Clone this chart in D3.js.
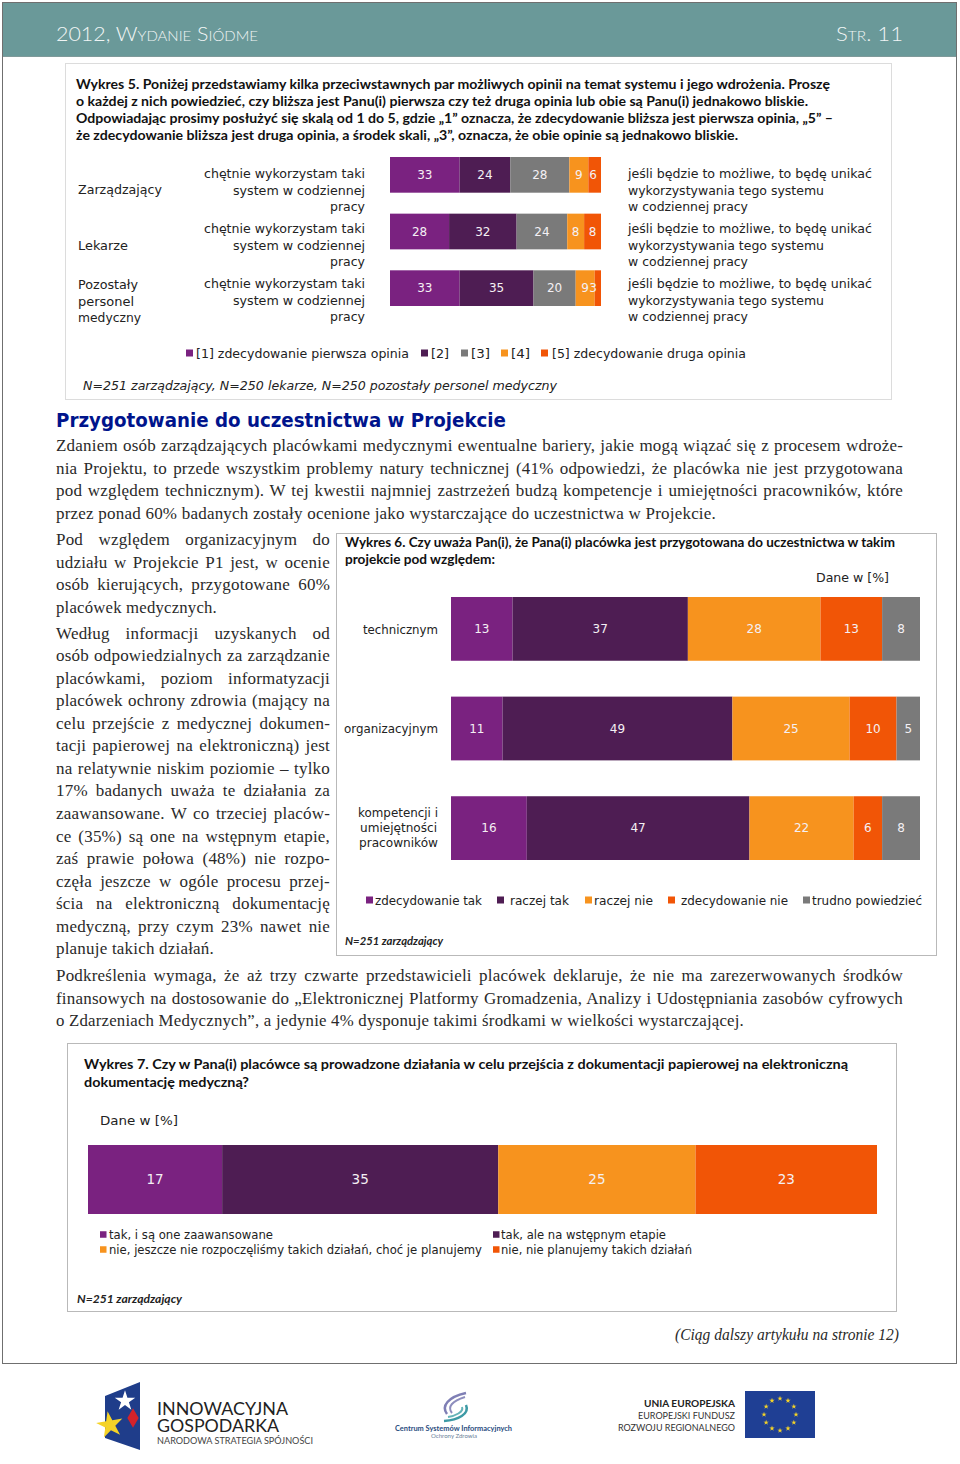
<!DOCTYPE html>
<html>
<head>
<meta charset="utf-8">
<style>
  html, body { margin: 0; padding: 0; background: #fff; }
  svg { display: block; }
</style>
<script src="https://cdn.jsdelivr.net/npm/d3@7"></script>
</head>
<body>
<div id="page"></div>
<script>
// chart data
const fig5Groups = ['Zarządzający', 'Lekarze', 'Pozostały personel medyczny'];
const fig5Opinia1 = [33, 28, 33];
const fig5Opinia2 = [24, 32, 35];
const fig5Opinia3 = [28, 24, 20];
const fig5Opinia4 = [9, 8, 9];
const fig5Opinia5 = [6, 8, 3];

const fig6Categories = ['technicznym', 'organizacyjnym', 'kompetencji'];
const fig6Tak = [13, 11, 16];
const fig6RaczejTak = [37, 49, 47];
const fig6RaczejNie = [28, 25, 22];
const fig6Nie = [13, 10, 6];
const fig6Trudno = [8, 5, 8];

const fig7Categories = ['wszyscy'];
const fig7Zaawansowane = [17];
const fig7Wstepne = [35];
const fig7Planowane = [25];
const fig7Brak = [23];

// text
const fig5Title = [
  'Wykres 5. Poniżej przedstawiamy kilka przeciwstawnych par możliwych opinii na temat systemu i jego wdrożenia. Proszę',
  'o każdej z nich powiedzieć, czy bliższa jest Panu(i) pierwsza czy też druga opinia lub obie są Panu(i) jednakowo bliskie.',
  'Odpowiadając prosimy posłużyć się skalą od 1 do 5, gdzie „1” oznacza, że zdecydowanie bliższa jest pierwsza opinia, „5” –',
  'że zdecydowanie bliższa jest druga opinia, a środek skali, „3”, oznacza, że obie opinie są jednakowo bliskie.'
];
const fig5Left = ['chętnie wykorzystam taki', 'system w codziennej', 'pracy'];
const fig5Right = ['jeśli będzie to możliwe, to będę unikać', 'wykorzystywania tego systemu', 'w codziennej pracy'];
const fig5Legend = ['[1] zdecydowanie pierwsza opinia', '[2]', '[3]', '[4]', '[5] zdecydowanie druga opinia'];
const fig5Note = 'N=251 zarządzający, N=250 lekarze, N=250 pozostały personel medyczny';

const fig6Title = [
  'Wykres 6. Czy uważa Pan(i), że Pana(i) placówka jest przygotowana do uczestnictwa w takim',
  'projekcie pod względem:'
];
const fig6Legend = ['zdecydowanie tak', 'raczej tak', 'raczej nie', 'zdecydowanie nie', 'trudno powiedzieć'];

const fig7Title = [
  'Wykres 7. Czy w Pana(i) placówce są prowadzone działania w celu przejścia z dokumentacji papierowej na elektroniczną',
  'dokumentację medyczną?'
];
const fig7Legend = [
  'tak, i są one zaawansowane',
  'tak, ale na wstępnym etapie',
  'nie, jeszcze nie rozpoczęliśmy takich działań, choć je planujemy',
  'nie, nie planujemy takich działań'
];

const heading = 'Przygotowanie do uczestnictwa w Projekcie';
const introLines = [
  'Zdaniem osób zarządzających placówkami medycznymi ewentualne bariery, jakie mogą wiązać się z procesem wdroże-',
  'nia Projektu, to przede wszystkim problemy natury technicznej (41% odpowiedzi, że placówka nie jest przygotowana',
  'pod względem technicznym). W tej kwestii najmniej zastrzeżeń budzą kompetencje i umiejętności pracowników, które',
  'przez ponad 60% badanych zostały ocenione jako wystarczające do uczestnictwa w Projekcie.'
];
const colLines1 = [
  'Pod względem organizacyjnym do',
  'udziału w Projekcie P1 jest, w ocenie',
  'osób kierujących, przygotowane 60%',
  'placówek medycznych.'
];
const colLines2 = [
  'Według informacji uzyskanych od',
  'osób odpowiedzialnych za zarządzanie',
  'placówkami, poziom informatyzacji',
  'placówek ochrony zdrowia (mający na',
  'celu przejście z medycznej dokumen-',
  'tacji papierowej na elektroniczną) jest',
  'na relatywnie niskim poziomie – tylko',
  '17% badanych uważa te działania za',
  'zaawansowane. W co trzeciej placów-',
  'ce (35%) są one na wstępnym etapie,',
  'zaś prawie połowa (48%) nie rozpo-',
  'częła jeszcze w ogóle procesu przej-',
  'ścia na elektroniczną dokumentację',
  'medyczną, przy czym 23% nawet nie',
  'planuje takich działań.'
];
const outroLines = [
  'Podkreślenia wymaga, że aż trzy czwarte przedstawicieli placówek deklaruje, że nie ma zarezerwowanych środków',
  'finansowych na dostosowanie do „Elektronicznej Platformy Gromadzenia, Analizy i Udostępniania zasobów cyfrowych',
  'o Zdarzeniach Medycznych”, a jedynie 4% dysponuje takimi środkami w wielkości wystarczającej.'
];

const purple = '#7a2280', darkPurple = '#4e1d53', grey = '#7a7a7a', orange = '#f7931e', red = '#f15506';
const chartFont = '"DejaVu Sans"', titleFont = 'Lato', bodyFont = '"Liberation Serif"';

const svg = d3.select('#page').append('svg')
  .attr('width', 960)
  .attr('height', 1464);

// text squeezed in between two x positions
function fit(str, x0, x1, y, opts = {}) {
  return svg.append('text')
    .attr('x', x0)
    .attr('y', y)
    .attr('textLength', x1 - x0)
    .attr('lengthAdjust', 'spacingAndGlyphs')
    .attr('font-family', opts.font || chartFont)
    .attr('font-size', opts.size || 12)
    .attr('font-weight', opts.weight || 'normal')
    .attr('font-style', opts.style || 'normal')
    .attr('font-variant', opts.variant || 'normal')
    .attr('fill', opts.fill || '#222')
    .text(str);
}

// body text, word gaps stretched to reach x1
function bodyLine(str, x0, x1, y) {
  const t = svg.append('text')
    .attr('x', x0)
    .attr('y', y)
    .attr('font-family', bodyFont)
    .attr('font-size', 17)
    .attr('letter-spacing', 0.2)
    .attr('fill', '#2a2a2a')
    .text(str);
  const w = t.node().getComputedTextLength();
  const gaps = str.split(' ').length - 1;
  if (w < x1 - x0 && gaps > 0) {
    t.attr('word-spacing', (x1 - x0 - w) / gaps);
  } else {
    t.attr('textLength', x1 - x0).attr('lengthAdjust', 'spacingAndGlyphs');
  }
}

function frame(x0, y0, x1, y1, color) {
  svg.append('rect')
    .attr('x', x0 + 0.5).attr('y', y0 + 0.5)
    .attr('width', x1 - x0).attr('height', y1 - y0)
    .attr('fill', '#fff')
    .attr('stroke', color);
}

// stacked bars, every row expanded to 100%
function stackedBars(cats, keys, seriesArrays, colors, xRange, yRange, inner, labelSize) {
  const rows = cats.map((c, i) => {
    const row = { cat: c };
    keys.forEach((k, j) => { row[k] = seriesArrays[j][i]; });
    return row;
  });
  const x = d3.scaleLinear().domain([0, 1]).range(xRange);
  const y = d3.scaleBand().domain(cats).range(yRange).paddingInner(inner);
  const color = d3.scaleOrdinal().domain(keys).range(colors);
  const stacked = d3.stack().keys(keys).offset(d3.stackOffsetExpand)(rows);

  const layer = svg.append('g').selectAll('g')
    .data(stacked)
    .join('g')
    .attr('fill', d => color(d.key));

  layer.selectAll('rect')
    .data(d => d)
    .join('rect')
    .attr('x', d => x(d[0]))
    .attr('y', d => y(d.data.cat))
    .attr('width', d => x(d[1]) - x(d[0]))
    .attr('height', y.bandwidth());

  const labels = svg.append('g');
  stacked.forEach(s => {
    labels.selectAll(null)
      .data(s)
      .join('text')
      // thin end segments: keep the number off the bar's edge
      .attr('x', d => Math.min(x((d[0] + d[1]) / 2), xRange[1] - 8))
      .attr('y', d => y(d.data.cat) + y.bandwidth() / 2)
      .attr('dy', '0.36em')
      .attr('text-anchor', 'middle')
      .attr('font-family', chartFont)
      .attr('font-size', labelSize)
      .attr('fill', '#f4f0f4')
      .text(d => d.data[s.key]);
  });
}

function swatch(x0, yc, size, color) {
  svg.append('rect')
    .attr('x', x0).attr('y', yc - size / 2)
    .attr('width', size).attr('height', size)
    .attr('fill', color);
}

// page frame and header band
svg.append('rect').attr('x', 2.5).attr('y', 2.5).attr('width', 954).attr('height', 1361)
  .attr('fill', '#fff').attr('stroke', '#6f6f6f');
svg.append('rect').attr('x', 3).attr('y', 3).attr('width', 953).attr('height', 53).attr('fill', '#6a9999');
svg.append('line').attr('x1', 3).attr('x2', 956).attr('y1', 56.5).attr('y2', 56.5).attr('stroke', '#7f9a9a');
fit('2012, Wydanie Siódme', 56, 258, 41, { font: titleFont, size: 20, weight: 300, variant: 'small-caps', fill: '#f0f5f5' });
fit('Str. 11', 836, 903, 41, { font: titleFont, size: 20, weight: 300, variant: 'small-caps', fill: '#f0f5f5' });

// wykres 5
frame(65, 63, 891, 399, '#dcdcdc');
const fig5TitleEnds = [830, 808, 833, 738];
fig5Title.forEach((s, i) => {
  fit(s, 76, fig5TitleEnds[i], 89 + i * 17, { font: titleFont, size: 13.5, weight: 'bold', fill: '#111' });
});
stackedBars(fig5Groups, ['o1', 'o2', 'o3', 'o4', 'o5'],
  [fig5Opinia1, fig5Opinia2, fig5Opinia3, fig5Opinia4, fig5Opinia5],
  [purple, darkPurple, grey, orange, red], [390, 601], [157, 306], 0.37, 12);

fit('Zarządzający', 78, 162, 194);
fit('Lekarze', 78, 128, 250);
fit('Pozostały', 78, 138, 289);
fit('personel', 78, 134, 306);
fit('medyczny', 78, 141, 322);

const fig5LeftStarts = [204, 233, 330];
const fig5RightEnds = [872, 824, 748];
d3.range(3).forEach(row => {
  d3.range(3).forEach(i => {
    const yy = 178 + row * 55 + i * 16.5;
    fit(fig5Left[i], fig5LeftStarts[i], 365, yy);
    fit(fig5Right[i], 628, fig5RightEnds[i], yy);
  });
});

const fig5LegendColors = [purple, darkPurple, grey, orange, red];
const fig5LegendSwatch = [186, 421, 461, 501, 541];
const fig5LegendText = [[196, 409], [431, 449], [471, 490], [511, 530], [552, 746]];
fig5Legend.forEach((s, i) => {
  swatch(fig5LegendSwatch[i], 353, 7, fig5LegendColors[i]);
  fit(s, fig5LegendText[i][0], fig5LegendText[i][1], 358);
});
fit(fig5Note, 83, 557, 390, { style: 'italic' });

// tekst
fit(heading, 56, 506, 427, { size: 19, weight: 'bold', fill: '#00148c' });
introLines.forEach((s, i) => {
  bodyLine(s, 56, i === 3 ? 716 : 903, 451 + i * 22.6);
});
colLines1.forEach((s, i) => {
  bodyLine(s, 56, i === 3 ? 217 : 330, 545 + i * 22.6);
});
colLines2.forEach((s, i) => {
  bodyLine(s, 56, i === 14 ? 214 : 330, 638.5 + i * 22.57);
});
outroLines.forEach((s, i) => {
  bodyLine(s, 56, i === 2 ? 744 : 903, 981 + i * 22.5);
});
fit('(Ciąg dalszy artykułu na stronie 12)', 675, 899, 1340, { font: bodyFont, size: 17, style: 'italic', fill: '#2a2a2a' });

// wykres 6
frame(336, 533, 936, 955, '#b9b9b9');
fit(fig6Title[0], 345, 895, 547, { font: titleFont, size: 13.5, weight: 'bold', fill: '#111' });
fit(fig6Title[1], 345, 495, 564, { font: titleFont, size: 13.5, weight: 'bold', fill: '#111' });
fit('Dane w [%]', 816, 889, 582);
stackedBars(fig6Categories, ['tak', 'rtak', 'rnie', 'nie', 'tp'],
  [fig6Tak, fig6RaczejTak, fig6RaczejNie, fig6Nie, fig6Trudno],
  [purple, darkPurple, orange, red, grey], [451, 920], [597, 860], 0.36, 12);
fit('technicznym', 363, 438, 634);
fit('organizacyjnym', 344, 438, 733);
fit('kompetencji i', 358, 438, 817);
fit('umiejętności', 360, 437, 832);
fit('pracowników', 359, 438, 847);

const fig6LegendColors = [purple, darkPurple, orange, red, grey];
const fig6LegendSwatch = [366, 497, 585, 668, 803];
const fig6LegendText = [[375, 482], [510, 569], [594, 653], [681, 788], [812, 922]];
fig6Legend.forEach((s, i) => {
  swatch(fig6LegendSwatch[i], 900, 7, fig6LegendColors[i]);
  fit(s, fig6LegendText[i][0], fig6LegendText[i][1], 905);
});
fit('N=251 zarządzający', 345, 443, 945, { font: titleFont, size: 12, style: 'italic', weight: 'bold', fill: '#222' });

// wykres 7
frame(67, 1043, 896, 1311, '#b9b9b9');
fit(fig7Title[0], 84, 848, 1069, { font: titleFont, size: 14, weight: 'bold', fill: '#111' });
fit(fig7Title[1], 84, 249, 1087, { font: titleFont, size: 14, weight: 'bold', fill: '#111' });
fit('Dane w [%]', 100, 178, 1125, { size: 13 });
stackedBars(fig7Categories, ['a', 'b', 'c', 'd'],
  [fig7Zaawansowane, fig7Wstepne, fig7Planowane, fig7Brak],
  [purple, darkPurple, orange, red], [88, 877], [1145, 1214], 0, 13.5);

const fig7LegendColors = [purple, darkPurple, orange, red];
const fig7LegendText = [[109, 273, 1239], [501, 666, 1239], [109, 482, 1254], [501, 692, 1254]];
fig7Legend.forEach((s, i) => {
  const t = fig7LegendText[i];
  swatch(i % 2 ? 493 : 100, t[2] - 4.5, 6.5, fig7LegendColors[i]);
  fit(s, t[0], t[1], t[2]);
});
fit('N=251 zarządzający', 77, 182, 1303, { font: titleFont, size: 12, style: 'italic', weight: 'bold', fill: '#222' });

// logotypy w stopce
const flag = svg.append('g');
flag.append('path').attr('d', 'M105,1396 L140,1382 L140,1450 L105,1438 Z').attr('fill', '#1f3d8a');
flag.append('path').attr('d', d3.symbol(d3.symbolStar, 130)()).attr('transform', 'translate(125,1401)').attr('fill', '#fff');
flag.append('path').attr('d', d3.symbol(d3.symbolDiamond, 110)()).attr('transform', 'translate(133,1418)').attr('fill', '#d4222a');
flag.append('path').attr('d', d3.symbol(d3.symbolStar, 220)()).attr('transform', 'translate(110,1425) rotate(-10)').attr('fill', '#f5d327');
fit('INNOWACYJNA', 157, 288, 1415, { font: 'Lato', size: 16.5, fill: '#222' });
fit('GOSPODARKA', 157, 279, 1432, { font: 'Lato', size: 16.5, fill: '#222' });
fit('NARODOWA STRATEGIA SPÓJNOŚCI', 157, 313, 1444, { font: 'Lato', size: 9, fill: '#444' });

const swirl = svg.append('g').attr('fill', 'none');
swirl.append('path').attr('d', 'M466,1393 C448,1397 441,1406 447,1414').attr('stroke', '#7f7fb5').attr('stroke-width', 2.5);
swirl.append('path').attr('d', 'M465,1397 C452,1401 447,1407 452,1413').attr('stroke', '#8d8dbd').attr('stroke-width', 2);
swirl.append('path').attr('d', 'M466,1405 C470,1414 458,1420 444,1421').attr('stroke', '#3d9aa5').attr('stroke-width', 2.5);
swirl.append('path').attr('d', 'M462,1407 C464,1412 455,1416 448,1417').attr('stroke', '#66b3b8').attr('stroke-width', 2);
fit('Centrum Systemów Informacyjnych', 395, 512, 1431, { font: 'Lato', size: 7, weight: 'bold', fill: '#2a4d80' });
fit('Ochrony Zdrowia', 431, 477, 1437.5, { font: 'Lato', size: 5, fill: '#6b7f99' });

fit('UNIA EUROPEJSKA', 644, 735, 1407, { font: 'Lato', size: 10, weight: 'bold', fill: '#222' });
fit('EUROPEJSKI FUNDUSZ', 638, 735, 1419, { font: 'Lato', size: 10, fill: '#333' });
fit('ROZWOJU REGIONALNEGO', 618, 735, 1431, { font: 'Lato', size: 10, fill: '#333' });
svg.append('rect').attr('x', 745).attr('y', 1391).attr('width', 70).attr('height', 47).attr('fill', '#1f3f94');
d3.range(12).forEach(i => {
  const a = i * Math.PI / 6;
  svg.append('path')
    .attr('d', d3.symbol(d3.symbolStar, 9)())
    .attr('transform', `translate(${780 + 16 * Math.sin(a)},${1414.5 - 16 * Math.cos(a)})`)
    .attr('fill', '#f5d327');
});
</script>
</body>
</html>
